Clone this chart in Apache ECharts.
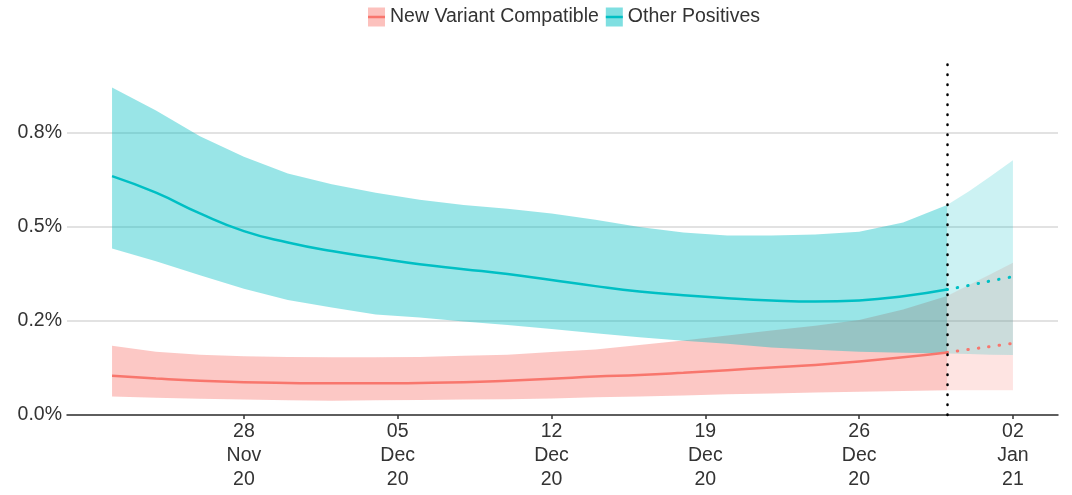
<!DOCTYPE html>
<html>
<head>
<meta charset="utf-8">
<script src="https://cdn.jsdelivr.net/npm/echarts@6/dist/echarts.min.js"></script>
<style>
  html, body { margin: 0; padding: 0; background: #fff; }
  #chart { width: 1072px; height: 495px; }
</style>
</head>
<body>
<div id="chart"></div>
<script>
// days counted from 22 Nov 2020; 38 = 30 Dec (last observed day), 41 = 02 Jan
const days = [0, 2, 4, 6, 8, 10, 12, 14, 16, 18, 20, 22, 24, 26, 28, 30, 32, 34, 36, 38, 39, 40, 41]
const projectFrom = 38

// Other Positives (%)
const cyanMid  = [0.634, 0.590, 0.535, 0.488, 0.458, 0.435, 0.417, 0.400, 0.387, 0.374, 0.358, 0.342, 0.328, 0.318, 0.310, 0.304, 0.301, 0.304, 0.315, 0.333, 0.344, 0.356, 0.367]
const cyanHigh = [0.869, 0.808, 0.740, 0.685, 0.641, 0.612, 0.590, 0.571, 0.557, 0.547, 0.535, 0.518, 0.499, 0.484, 0.476, 0.476, 0.479, 0.486, 0.511, 0.557, 0.594, 0.634, 0.676]
const cyanLow  = [0.442, 0.408, 0.371, 0.335, 0.305, 0.285, 0.267, 0.259, 0.248, 0.239, 0.228, 0.217, 0.206, 0.197, 0.189, 0.179, 0.173, 0.168, 0.165, 0.163, 0.162, 0.160, 0.159]

// New Variant Compatible (%)
const redMid  = [0.104, 0.097, 0.091, 0.087, 0.085, 0.084, 0.084, 0.085, 0.087, 0.091, 0.096, 0.102, 0.106, 0.112, 0.119, 0.126, 0.133, 0.142, 0.153, 0.166, 0.174, 0.182, 0.190]
const redHigh = [0.184, 0.168, 0.160, 0.156, 0.154, 0.153, 0.153, 0.154, 0.157, 0.160, 0.167, 0.174, 0.186, 0.198, 0.211, 0.224, 0.237, 0.252, 0.280, 0.316, 0.345, 0.374, 0.404]
const redLow  = [0.049, 0.046, 0.043, 0.041, 0.039, 0.038, 0.039, 0.040, 0.041, 0.042, 0.044, 0.047, 0.049, 0.052, 0.055, 0.057, 0.060, 0.062, 0.064, 0.066, 0.066, 0.066, 0.066]

const xTickDays = [6, 13, 20, 27, 34, 41]
const xTickLabels = ['28\nNov\n20', '05\nDec\n20', '12\nDec\n20', '19\nDec\n20', '26\nDec\n20', '02\nJan\n21']
const yTickValues = [0, 0.25, 0.5, 0.75]
const yTickLabels = ['0.0%', '0.2%', '0.5%', '0.8%']

const RED = '#F8766D'
const CYAN = '#00BFC4'
const FONT = "'Liberation Sans', Arial, sans-serif"
const cut = days.indexOf(projectFrom)
const last = days.length - 1

function pairs(arr, from, to) {
  const out = []
  for (let i = from; i <= to; i++) out.push([days[i], arr[i]])
  return out
}

// ribbon between low and high, drawn as one polygon through the axes
function band(low, high, fill, from, to) {
  return {
    type: 'custom', silent: true,
    data: [[days[from], low[from]]],
    renderItem: (params, api) => {
      const pts = []
      for (let i = from; i <= to; i++) pts.push(api.coord([days[i], high[i]]))
      for (let i = to; i >= from; i--) pts.push(api.coord([days[i], low[i]]))
      return { type: 'polygon', shape: { points: pts }, style: { fill: fill } }
    },
  }
}

function line(name, arr, color, dotted, from, to) {
  return {
    name: name, type: 'line', smooth: true, showSymbol: false, silent: true,
    lineStyle: dotted
      ? { color: color, width: 3, type: [0.5, 10], cap: 'round' }
      : { color: color, width: 2.5 },
    itemStyle: { color: color },
    data: pairs(arr, from, to),
  }
}

const series = [
  band(redLow, redHigh, 'rgba(248,118,109,0.4)', 0, cut),
  band(redLow, redHigh, 'rgba(248,118,109,0.2)', cut, last),
  band(cyanLow, cyanHigh, 'rgba(0,191,196,0.4)', 0, cut),
  band(cyanLow, cyanHigh, 'rgba(0,191,196,0.2)', cut, last),
  line('New Variant Compatible', redMid, RED, false, 0, cut),
  line('Other Positives', cyanMid, CYAN, false, 0, cut),
  line('nvc-proj', redMid, RED, true, cut, last),
  line('op-proj', cyanMid, CYAN, true, cut, last),
]
series[series.length - 3].markLine = {
  silent: true, symbol: ['none', 'none'], label: { show: false },
  lineStyle: { color: '#000', width: 2.5, type: [0.5, 9.5], cap: 'round' },
  data: [{ xAxis: projectFrom }],
}

// legend icon: a line across the middle of a 17x19 box
const lineIcon = 'path://M0,0 L0.01,0 Z M0,8.3 L17,8.3 L17,10.7 L0,10.7 Z M0,19 L0.01,19 Z'
const legendBase = {
  left: 368, top: 7, padding: 0, itemWidth: 17, itemHeight: 19, itemGap: 7,
  selectedMode: false,
}

const chart = echarts.init(document.getElementById('chart'))
chart.setOption({
  animation: false,
  backgroundColor: '#fff',
  textStyle: { fontFamily: FONT },
  grid: { left: 67, right: 14, top: 57, bottom: 80, outerBoundsMode: 'none' },
  legend: [
    Object.assign({}, legendBase, {
      icon: 'rect',
      textStyle: { fontSize: 19.5, color: '#333', fontFamily: FONT },
      data: [
        { name: 'New Variant Compatible', itemStyle: { color: 'rgba(248,118,109,0.45)' } },
        { name: 'Other Positives', itemStyle: { color: 'rgba(0,191,196,0.5)' } },
      ],
    }),
    Object.assign({}, legendBase, {
      icon: lineIcon,
      textStyle: { fontSize: 19.5, color: 'rgba(0,0,0,0)', fontFamily: FONT },
      data: [
        { name: 'New Variant Compatible', itemStyle: { color: RED } },
        { name: 'Other Positives', itemStyle: { color: CYAN } },
      ],
    }),
  ],
  xAxis: {
    type: 'value', min: -2.05, max: 43.05,
    splitLine: { show: false },
    axisLine: { lineStyle: { color: '#333', width: 1.5 } },
    axisTick: { customValues: xTickDays, length: 4, lineStyle: { color: '#333', width: 1.5 } },
    axisLabel: {
      customValues: xTickDays,
      formatter: v => xTickLabels[xTickDays.indexOf(v)],
      fontSize: 19.5, lineHeight: 24, margin: 5, color: '#333', fontFamily: FONT,
    },
  },
  yAxis: {
    type: 'value', min: 0, max: 0.95, interval: 0.25,
    axisLine: { show: false },
    axisTick: { show: false },
    splitLine: { showMaxLine: false, lineStyle: { color: '#D9D9D9', width: 1.5 } },
    axisLabel: {
      showMaxLabel: false,
      formatter: v => { const i = yTickValues.indexOf(v); return i < 0 ? '' : yTickLabels[i] },
      fontSize: 19.5, margin: 5, color: '#333', fontFamily: FONT,
    },
  },
  series: series,
})
</script>
</body>
</html>
